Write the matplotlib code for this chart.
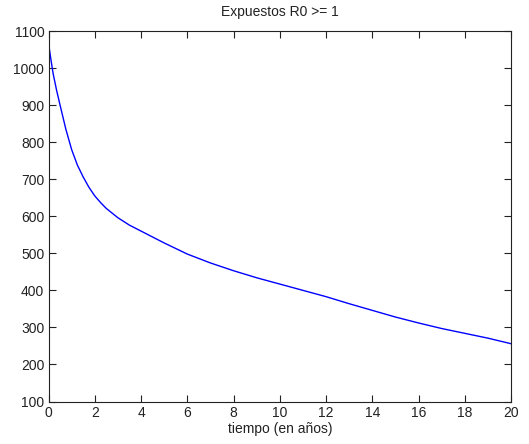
import matplotlib
matplotlib.use("Agg")
import matplotlib.pyplot as plt

t = [0, 0.03, 0.1, 0.2, 0.35, 0.5, 0.75, 1, 1.25, 1.5, 1.75, 2, 2.25, 2.5, 3,
     3.5, 4, 5, 6, 7, 8, 9, 10, 11, 12, 13, 14, 15, 16, 17, 18, 19, 20]
expuestos = [980, 1055, 1025, 985, 940, 900, 835, 780, 738, 706, 678, 655, 637,
             621, 596, 576, 560, 528, 498, 474, 453, 434, 417, 400, 383, 364,
             346, 328, 312, 297, 284, 271, 256]
xticks = list(range(0, 21, 2))
yticks = list(range(100, 1101, 100))

plt.rcParams['font.family'] = ['Liberation Sans', 'DejaVu Sans']
fig = plt.figure(figsize=(5.29, 4.44), dpi=100)
ax = fig.add_axes([48.5/529, 1-401.5/444, (511-48.5)/529, (401.5-31)/444])
ax.plot(t, expuestos, color='#0000ff', lw=1.0)
ax.set_xlim(0, 20)
ax.set_ylim(100, 1100)
ax.set_xticks(xticks)
ax.set_yticks(yticks)
ax.tick_params(direction='in', top=True, right=True, labelsize=10, length=5,
               width=0.8, pad=3, colors='#222222')
for s in ax.spines.values():
    s.set_linewidth(0.8)
    s.set_color('#222222')
ax.set_title('Expuestos R0 >= 1', fontsize=10, pad=11, color='#222222')
ax.set_xlabel('tiempo (en años)', fontsize=10, labelpad=2, color='#222222')
fig.savefig('out.png', dpi=100, facecolor='white')
